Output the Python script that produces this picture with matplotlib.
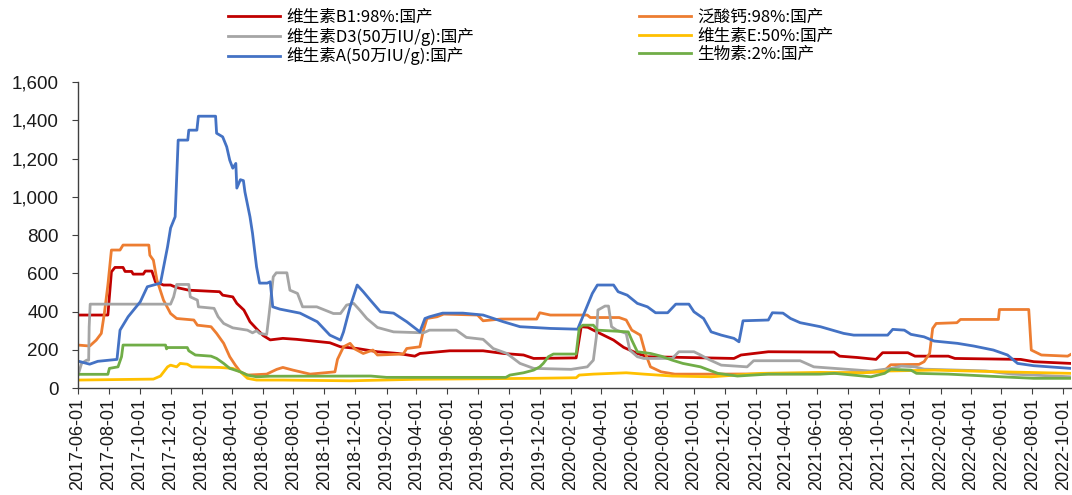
import matplotlib
matplotlib.use("Agg")
import matplotlib.pyplot as plt
import matplotlib.dates as mdates
import pandas as pd

plt.rcParams['font.family'] = ['Noto Sans CJK SC', 'DejaVu Sans']

# 维生素B1:98%:国产
b1_dates = ["2017-06-01", "2017-07-30", "2017-08-06", "2017-08-13", "2017-08-29", "2017-09-02",
            "2017-09-15", "2017-09-18", "2017-10-08", "2017-10-12", "2017-10-25", "2017-11-01",
            "2017-11-17", "2017-12-01", "2017-12-13", "2018-01-06", "2018-03-08", "2018-03-14",
            "2018-04-03", "2018-04-11", "2018-04-25", "2018-05-02", "2018-05-07", "2018-05-20",
            "2018-06-02", "2018-06-16", "2018-07-11", "2018-08-07", "2018-10-12", "2018-11-02",
            "2018-12-05", "2019-01-14", "2019-02-24", "2019-03-29", "2019-04-08", "2019-06-06",
            "2019-08-11", "2019-09-20", "2019-10-30", "2019-11-19", "2020-02-11", "2020-02-21",
            "2020-03-05", "2020-03-16", "2020-04-05", "2020-04-25", "2020-05-15", "2020-06-11",
            "2020-07-01", "2020-12-19", "2021-01-02", "2021-02-25", "2021-07-05", "2021-07-16",
            "2021-08-20", "2021-09-26", "2021-10-09", "2021-11-28", "2021-12-12", "2022-02-16",
            "2022-03-01", "2022-07-09", "2022-08-04", "2022-10-16"]
b1_vals = [382, 382, 608, 631, 631, 610, 610, 596, 596, 612, 612, 556, 539, 539, 526, 512, 504, 486,
           477, 443, 408, 373, 347, 310, 275, 252, 260, 255, 237, 216, 207, 190, 181, 167, 181, 195,
           195, 181, 173, 155, 158, 321, 318, 303, 277, 251, 213, 181, 164, 155, 173, 190, 188, 167,
           160, 150, 185, 185, 167, 167, 155, 150, 138, 129]

# 泛酸钙:98%:国产
pan_dates = ["2017-06-01", "2017-06-24", "2017-07-07", "2017-07-17", "2017-07-23", "2017-07-30",
             "2017-08-06", "2017-08-23", "2017-08-29", "2017-10-19", "2017-10-21", "2017-10-28",
             "2017-11-04", "2017-11-17", "2017-12-01", "2017-12-13", "2018-01-16", "2018-01-23",
             "2018-02-19", "2018-03-02", "2018-03-16", "2018-03-28", "2018-04-08", "2018-04-18",
             "2018-05-02", "2018-06-09", "2018-06-29", "2018-07-11", "2018-07-31", "2018-09-03",
             "2018-10-22", "2018-10-27", "2018-11-08", "2018-11-21", "2018-11-30", "2018-12-17",
             "2019-01-05", "2019-01-14", "2019-03-06", "2019-03-13", "2019-04-08", "2019-04-15",
             "2019-04-22", "2019-05-12", "2019-05-25", "2019-07-31", "2019-08-11", "2019-09-15",
             "2019-11-25", "2019-12-01", "2019-12-22", "2020-03-04", "2020-03-10", "2020-05-06",
             "2020-05-20", "2020-05-31", "2020-06-17", "2020-06-27", "2020-07-07", "2020-07-28",
             "2020-08-24", "2020-10-30", "2021-06-01", "2021-10-10", "2021-10-25", "2021-12-20",
             "2021-12-30", "2022-01-10", "2022-01-16", "2022-01-23", "2022-03-05", "2022-03-12",
             "2022-05-26", "2022-05-28", "2022-07-25", "2022-07-27", "2022-07-30", "2022-08-19",
             "2022-10-10", "2022-10-16"]
pan_vals = [225, 220, 251, 286, 390, 539, 722, 722, 748, 748, 695, 669, 565, 460, 390, 364, 356, 329,
            321, 286, 234, 164, 120, 85, 68, 73, 98, 108, 94, 73, 85, 150, 216, 234, 205, 181, 199, 173,
            178, 207, 216, 303, 364, 373, 387, 382, 352, 361, 361, 394, 382, 382, 369, 369, 356, 303,
            277, 181, 111, 85, 73, 73, 75, 85, 122, 124, 138, 181, 312, 338, 342, 359, 359, 411, 411,
            329, 199, 173, 167, 176]

# 维生素D3(50万IU/g):国产
d3_dates = ["2017-06-01", "2017-06-08", "2017-06-18", "2017-06-22", "2017-06-23", "2017-06-25",
            "2017-12-01", "2017-12-07", "2017-12-13", "2018-01-06", "2018-01-09", "2018-01-23",
            "2018-01-25", "2018-02-25", "2018-03-05", "2018-03-16", "2018-04-03", "2018-05-02",
            "2018-05-12", "2018-05-20", "2018-05-26", "2018-06-09", "2018-06-14", "2018-06-22",
            "2018-06-28", "2018-07-19", "2018-07-25", "2018-08-09", "2018-08-19", "2018-09-16",
            "2018-10-19", "2018-11-02", "2018-11-14", "2018-11-28", "2018-12-10", "2018-12-24",
            "2019-01-14", "2019-02-15", "2019-04-15", "2019-04-27", "2019-06-19", "2019-07-09",
            "2019-08-11", "2019-08-31", "2019-09-27", "2019-10-23", "2019-11-19", "2020-02-01",
            "2020-03-04", "2020-03-16", "2020-03-22", "2020-03-25", "2020-04-08", "2020-04-15",
            "2020-04-21", "2020-05-01", "2020-05-20", "2020-05-27", "2020-06-11", "2020-06-24",
            "2020-08-19", "2020-09-01", "2020-10-01", "2020-10-14", "2020-10-30", "2020-11-24",
            "2021-01-14", "2021-01-27", "2021-04-29", "2021-05-26", "2021-07-06", "2021-09-16",
            "2021-10-26", "2021-11-15", "2021-12-12", "2021-12-30", "2022-04-30", "2022-06-23",
            "2022-10-16"]
d3_vals = [68, 129, 146, 146, 320, 439, 439, 477, 542, 542, 477, 460, 425, 417, 373, 338, 315, 303,
           289, 300, 286, 280, 390, 582, 603, 603, 512, 495, 425, 425, 390, 390, 434, 443, 408, 364,
           317, 294, 289, 303, 303, 265, 255, 207, 181, 129, 103, 98, 111, 146, 268, 408, 429, 429,
           321, 303, 286, 199, 164, 155, 155, 190, 190, 173, 150, 120, 111, 143, 143, 111, 103, 89,
           103, 115, 111, 99, 90, 73, 59]

# 维生素E:50%:国产
e_dates = ["2017-06-01", "2017-10-28", "2017-11-11", "2017-11-25", "2017-12-01", "2017-12-13",
           "2017-12-20", "2018-01-03", "2018-01-12", "2018-03-08", "2018-04-03", "2018-04-18",
           "2018-05-02", "2018-05-20", "2018-07-11", "2018-11-21", "2019-04-01", "2019-11-19",
           "2020-02-11", "2020-02-17", "2020-03-16", "2020-05-20", "2020-06-24", "2020-08-19",
           "2020-11-04", "2021-02-11", "2021-06-08", "2021-09-01", "2021-10-13", "2022-01-19",
           "2022-06-01", "2022-10-16"]
e_vals = [42, 47, 63, 111, 120, 111, 129, 125, 111, 108, 103, 85, 51, 42, 42, 38, 46, 51, 54, 68,
          73, 80, 73, 63, 59, 77, 82, 80, 89, 94, 85, 77]

# 维生素A(50万IU/g):国产
a_dates = ["2017-06-01", "2017-06-24", "2017-07-10", "2017-08-17", "2017-08-23", "2017-09-08",
           "2017-10-02", "2017-10-16", "2017-11-11", "2017-11-25", "2017-12-01", "2017-12-10",
           "2017-12-16", "2018-01-04", "2018-01-06", "2018-01-22", "2018-01-25", "2018-02-28",
           "2018-03-02", "2018-03-14", "2018-03-22", "2018-03-28", "2018-04-03", "2018-04-09",
           "2018-04-11", "2018-04-18", "2018-04-24", "2018-04-27", "2018-05-07", "2018-05-12",
           "2018-05-20", "2018-05-26", "2018-06-10", "2018-06-16", "2018-06-21", "2018-07-05",
           "2018-08-14", "2018-09-17", "2018-10-12", "2018-11-02", "2018-11-08", "2018-11-21",
           "2018-12-05", "2018-12-17", "2018-12-31", "2019-01-20", "2019-02-15", "2019-03-13",
           "2019-04-08", "2019-04-18", "2019-04-27", "2019-05-23", "2019-07-02", "2019-08-11",
           "2019-09-20", "2019-10-23", "2019-12-22", "2020-02-14", "2020-03-14", "2020-03-24",
           "2020-04-25", "2020-05-04", "2020-05-22", "2020-06-11", "2020-07-01", "2020-07-17",
           "2020-08-10", "2020-08-26", "2020-09-21", "2020-10-01", "2020-10-20", "2020-11-04",
           "2020-11-24", "2020-12-19", "2020-12-29", "2021-01-06", "2021-02-25", "2021-03-05",
           "2021-03-26", "2021-04-10", "2021-04-29", "2021-06-08", "2021-07-24", "2021-08-13",
           "2021-10-19", "2021-10-29", "2021-11-21", "2021-12-04", "2021-12-30", "2022-01-19",
           "2022-03-06", "2022-04-07", "2022-05-16", "2022-06-13", "2022-07-03", "2022-08-04",
           "2022-10-16"]
a_vals = [141, 125, 140, 150, 303, 373, 451, 530, 549, 739, 837, 896, 1297, 1297, 1349, 1349, 1422,
          1422, 1333, 1314, 1262, 1192, 1150, 1175, 1046, 1090, 1085, 1026, 896, 810, 634, 549, 549,
          556, 425, 413, 392, 347, 277, 251, 294, 425, 539, 504, 460, 399, 392, 347, 294, 364, 373,
          392, 392, 382, 347, 321, 312, 308, 495, 539, 539, 504, 486, 443, 425, 394, 394, 439, 439,
          399, 364, 294, 277, 260, 242, 352, 356, 394, 392, 364, 342, 321, 286, 277, 277, 307, 303,
          281, 268, 246, 234, 220, 199, 173, 129, 117, 103]

# 生物素:2%:国产
bio_dates = ["2017-06-01", "2017-07-30", "2017-08-02", "2017-08-19", "2017-08-26", "2017-08-29",
             "2017-11-21", "2017-11-23", "2017-11-25", "2018-01-03", "2018-01-06", "2018-01-19",
             "2018-02-19", "2018-03-02", "2018-03-16", "2018-03-28", "2018-04-18", "2018-05-02",
             "2018-05-20", "2018-06-16", "2019-01-01", "2019-02-01", "2019-09-25", "2019-10-03",
             "2019-10-30", "2019-11-19", "2019-12-01", "2019-12-08", "2019-12-18", "2019-12-28",
             "2020-02-11", "2020-02-17", "2020-02-24", "2020-03-16", "2020-03-24", "2020-05-24",
             "2020-05-31", "2020-06-11", "2020-07-07", "2020-07-28", "2020-08-19", "2020-09-09",
             "2020-10-14", "2020-11-17", "2020-12-26", "2021-02-25", "2021-06-08", "2021-07-06",
             "2021-09-16", "2021-10-13", "2021-10-25", "2021-12-04", "2021-12-15", "2022-02-16",
             "2022-06-01", "2022-08-04", "2022-10-16"]
bio_vals = [72, 72, 103, 111, 164, 225, 225, 205, 212, 212, 195, 173, 167, 155, 129, 103, 85, 68, 59,
            62, 63, 56, 56, 68, 80, 94, 111, 129, 164, 178, 178, 312, 329, 329, 303, 294, 251, 190,
            181, 167, 146, 129, 111, 77, 63, 73, 73, 77, 59, 77, 98, 94, 77, 73, 59, 51, 51]

series = [
    ("维生素B1:98%:国产", b1_dates, b1_vals, "#C00000"),
    ("泛酸钙:98%:国产", pan_dates, pan_vals, "#ED7D31"),
    ("维生素D3(50万IU/g):国产", d3_dates, d3_vals, "#A5A5A5"),
    ("维生素E:50%:国产", e_dates, e_vals, "#FFC000"),
    ("维生素A(50万IU/g):国产", a_dates, a_vals, "#4472C4"),
    ("生物素:2%:国产", bio_dates, bio_vals, "#70AD47"),
]

fig = plt.figure(figsize=(10.72, 4.95), dpi=100)
ax = fig.add_axes([0.0728, 0.216, 0.926, 0.618])

lines = {}
for name, d, v, c in series:
    ln, = ax.plot(pd.to_datetime(d), v, color=c, lw=2.0, label=name)
    lines[name] = ln

ax.set_ylim(0, 1600)
ax.set_yticks(range(0, 1601, 200))
ax.yaxis.set_major_formatter(matplotlib.ticker.FuncFormatter(lambda y, p: f"{int(y):,}"))
ax.set_xlim(pd.Timestamp("2017-06-01"), pd.Timestamp("2022-10-16"))
ax.xaxis.set_major_locator(mdates.MonthLocator(bymonth=[2, 4, 6, 8, 10, 12], bymonthday=1))
ax.xaxis.set_major_formatter(mdates.DateFormatter("%Y-%m-%d"))

for lab in ax.get_yticklabels():
    lab.set_family("Liberation Sans")
    lab.set_fontsize(13.5)
for lab in ax.get_xticklabels():
    lab.set_family("Liberation Sans")
    lab.set_fontsize(13)
    lab.set_rotation(90)

for s in ["top", "right"]:
    ax.spines[s].set_visible(False)
for s in ["left", "bottom"]:
    ax.spines[s].set_color("#404040")
    ax.spines[s].set_linewidth(1.0)
ax.tick_params(axis="both", direction="out", length=4, color="#404040", colors="#1a1a1a")
ax.tick_params(axis="y", pad=10)
ax.tick_params(axis="x", pad=3)

order = ["维生素B1:98%:国产", "维生素D3(50万IU/g):国产", "维生素A(50万IU/g):国产",
         "泛酸钙:98%:国产", "维生素E:50%:国产", "生物素:2%:国产"]
leg = fig.legend([lines[n] for n in order], order, ncol=2, loc="upper left",
                 bbox_to_anchor=(228 / 1072, 1 - 9 / 495), frameon=False,
                 fontsize=12, handlelength=3.1, handletextpad=0.4,
                 columnspacing=9.9, labelspacing=0.1, borderpad=0, borderaxespad=0)

fig.savefig("out.png", dpi=100)
